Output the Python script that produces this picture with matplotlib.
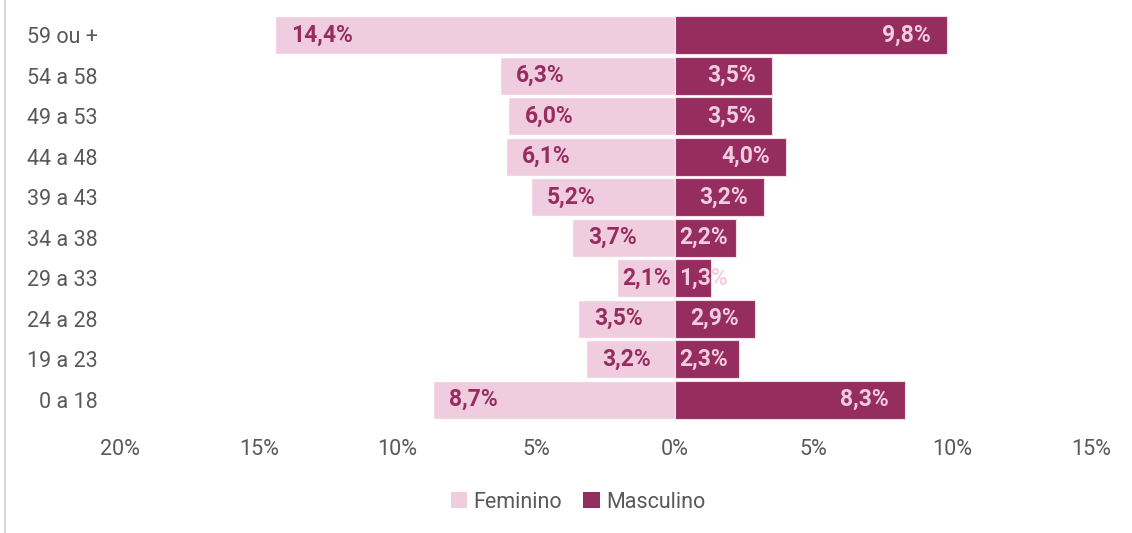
import matplotlib.pyplot as plt
from matplotlib.lines import Line2D
from matplotlib.patches import Patch

plt.rcParams["font.family"] = ["Roboto", "DejaVu Sans"]

faixas = ["0 a 18", "19 a 23", "24 a 28", "29 a 33", "34 a 38",
          "39 a 43", "44 a 48", "49 a 53", "54 a 58", "59 ou +"]
feminino = [8.7, 3.2, 3.5, 2.1, 3.7, 5.2, 6.1, 6.0, 6.3, 14.4]
masculino = [8.3, 2.3, 2.9, 1.3, 2.2, 3.2, 4.0, 3.5, 3.5, 9.8]
xticks = [-20, -15, -10, -5, 0, 5, 10, 15]

COR_F = "#F0CCDF"
COR_M = "#962D5F"
CINZA = "#595959"
FS = 15.5
FS_DADOS = 16.5

fig = plt.figure(figsize=(11.32, 5.33), dpi=100)
ax = fig.add_axes([0.106, 0.212, 0.8578, 0.760])

y = list(range(len(faixas)))
ax.barh(y, [-v for v in feminino], height=0.94, color=COR_F, edgecolor="white", linewidth=1)
ax.barh(y, masculino, height=0.94, color=COR_M, edgecolor="#f3dce8", linewidth=0.8)

ax.set_xlim(-20, 15)
ax.set_ylim(-0.5, len(faixas) - 0.5)
ax.set_xticks(xticks)
ax.set_xticklabels([f"{abs(t)}%" for t in xticks])
ax.set_yticks(y)
ax.set_yticklabels(faixas)
ax.tick_params(axis="both", length=0, colors=CINZA, labelsize=FS)
ax.tick_params(axis="x", pad=14)
ax.tick_params(axis="y", pad=16)
for s in ax.spines.values():
    s.set_visible(False)

# rótulos de dados: dentro da barra, na ponta; encostam na base se não couberem
fig.canvas.draw()
renderer = fig.canvas.get_renderer()
px = ax.transData.transform([(1, 0)])[0][0] - ax.transData.transform([(0, 0)])[0][0]
pad = 16 / px
gap = 4 / px
for i, (f, m) in enumerate(zip(feminino, masculino)):
    tf = ax.text(-f + pad, i, f"{f:.1f}%".replace(".", ","), ha="left", va="center",
                 color=COR_M, fontsize=FS_DADOS, fontweight="bold")
    w = tf.get_window_extent(renderer).width / px
    if -f + pad + w > -gap:
        tf.set_x(-gap - w)
    tm = ax.text(m - pad, i, f"{m:.1f}%".replace(".", ","), ha="right", va="center",
                 color=COR_F, fontsize=FS_DADOS, fontweight="bold")
    w = tm.get_window_extent(renderer).width / px
    if m - pad - w < gap:
        tm.set_x(gap + w)

handles = [Patch(facecolor=COR_F, label="Feminino"),
           Patch(facecolor=COR_M, label="Masculino")]
leg = fig.legend(handles=handles, loc="center", bbox_to_anchor=(578 / 1132, 1 - 502 / 533),
                 ncol=2, frameon=False, fontsize=FS, handlelength=0.75, handleheight=0.75,
                 handletextpad=0.3, columnspacing=1.0)
for t in leg.get_texts():
    t.set_color(CINZA)

# linha cinza à esquerda
fig.add_artist(Line2D([5 / 1132, 5 / 1132], [0, 1], color="#d9d9d9", linewidth=1.5,
                      transform=fig.transFigure))

fig.savefig("out.png", dpi=100)
